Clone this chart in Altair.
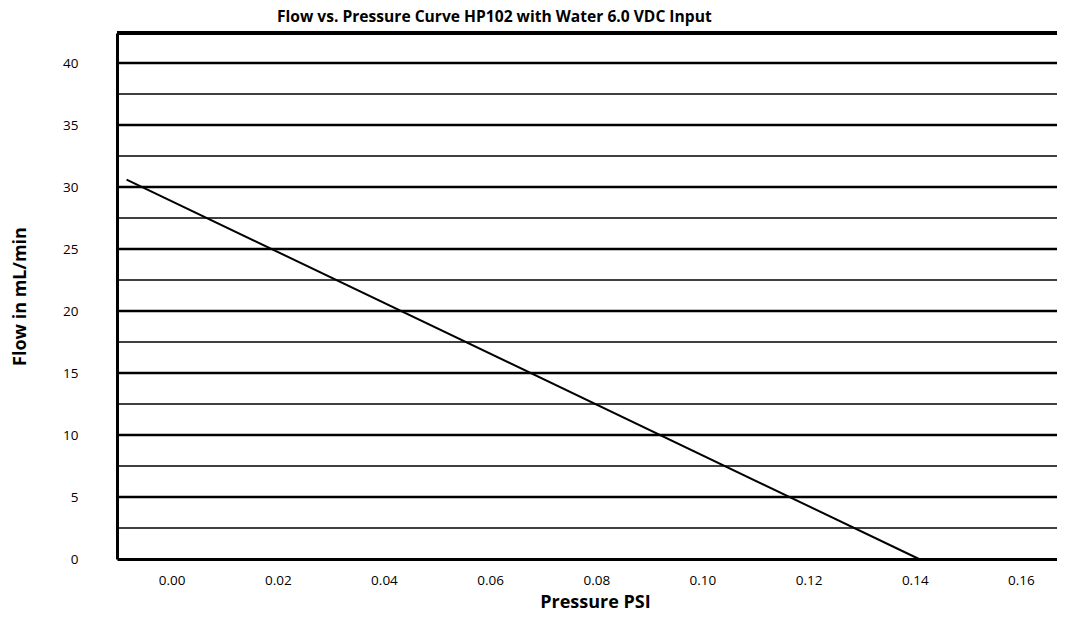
import altair as alt
import pandas as pd

# data
pressure = [-0.0085, 0.1408]
flow = [30.6, 0.0]
major_grid = [5, 10, 15, 20, 25, 30, 35, 40]
minor_grid = [2.5, 7.5, 12.5, 17.5, 22.5, 27.5, 32.5, 37.5]
x_ticks = [0.0, 0.02, 0.04, 0.06, 0.08, 0.10, 0.12, 0.14, 0.16]
y_ticks = [0, 5, 10, 15, 20, 25, 30, 35, 40]
x_domain = [-0.0103, 0.1668]
y_domain = [0, 42.42]
title_text = "Flow vs. Pressure Curve HP102 with Water 6.0 VDC Input"

W, H = 940, 526
FONT = "Open Sans"

line_df = pd.DataFrame({"p": pressure, "f": flow})
major_df = pd.DataFrame({"g": major_grid})
minor_df = pd.DataFrame({"g": minor_grid})
title_df = pd.DataFrame({"t": [title_text]})

xs = alt.Scale(domain=x_domain, nice=False, zero=False)
ys = alt.Scale(domain=y_domain, nice=False, zero=False)

x_axis = alt.Axis(values=x_ticks, format=".2f", grid=False, ticks=False,
                  domainColor="black", domainWidth=3, labelFont=FONT,
                  labelFontSize=13.5, labelColor="black", labelPadding=14,
                  title="Pressure PSI", titleFont=FONT, titleFontSize=18,
                  titleFontWeight="bold", titleColor="black", titlePadding=7,
                  titleX=478)
y_axis = alt.Axis(values=y_ticks, grid=False, ticks=False,
                  domainColor="black", domainWidth=3, labelFont=FONT,
                  labelFontSize=13.5, labelColor="black", labelPadding=39,
                  title="Flow in mL/min", titleFont=FONT, titleFontSize=18,
                  titleFontWeight="bold", titleColor="black", titlePadding=33)

minor = alt.Chart(minor_df).mark_rule(color="black", strokeWidth=1.6).encode(
    y=alt.Y("g:Q", scale=ys, axis=y_axis))
major = alt.Chart(major_df).mark_rule(color="black", strokeWidth=2.6).encode(
    y=alt.Y("g:Q", scale=ys))
top = alt.Chart(major_df).mark_rule(color="black", strokeWidth=3).encode(
    x=alt.value(0), x2=alt.value(W), y=alt.value(0))
line = alt.Chart(line_df).mark_line(color="black", strokeWidth=2).encode(
    x=alt.X("p:Q", scale=xs, axis=x_axis),
    y=alt.Y("f:Q", scale=ys))
title = alt.Chart(title_df).mark_text(
    font=FONT, fontSize=15.6, fontWeight="bold", color="black",
    align="left", baseline="alphabetic").encode(
    text="t:N", x=alt.value(160), y=alt.value(-11))

chart = alt.layer(minor, major, top, line, title).properties(
    width=W, height=H,
    autosize=alt.AutoSizeParams(type="none"),
    padding={"left": 109, "top": 25, "right": 0, "bottom": 60},
).configure_view(stroke=None).configure(background="white")

chart.save("out.html", embed_options={"renderer": "svg", "actions": False})
